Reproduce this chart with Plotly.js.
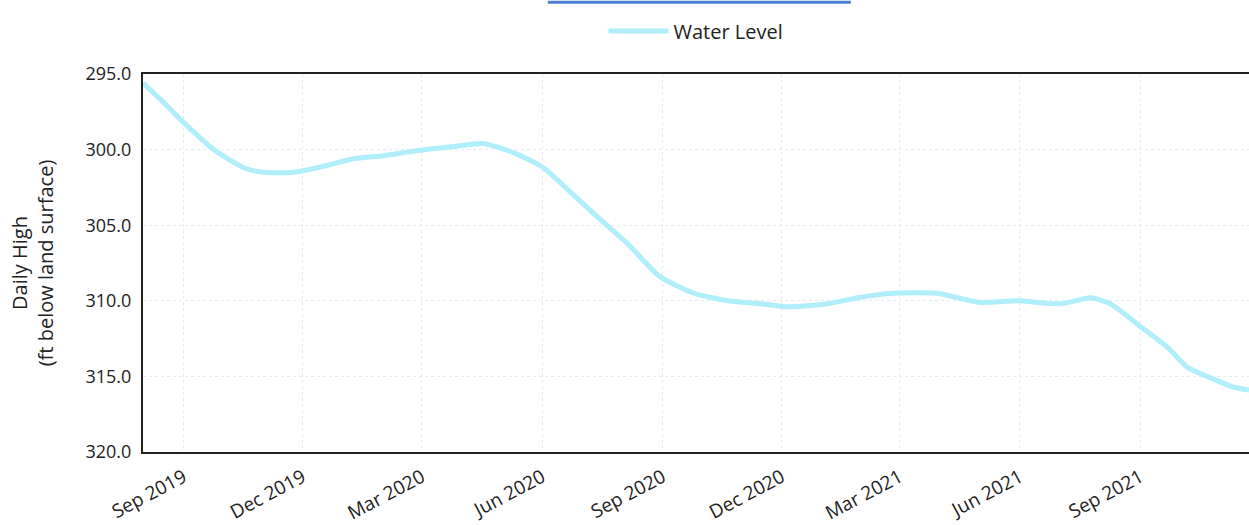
<!DOCTYPE html>
<html>
<head>
<meta charset="utf-8">
<script src="https://cdn.plot.ly/plotly-3.0.1.min.js"></script>
<style>html,body{margin:0;padding:0;background:#fff;}#chart{width:1249px;height:525px;}</style>
</head>
<body>
<div id="chart"></div>
<script>
const dates = [
  '2019-08-01','2019-08-17','2019-09-01','2019-09-24','2019-10-17','2019-11-01','2019-11-24',
  '2019-12-17','2020-01-09','2020-02-01','2020-02-24','2020-03-25','2020-04-17','2020-05-10',
  '2020-06-02','2020-06-15','2020-07-10','2020-08-05','2020-08-30','2020-09-25','2020-10-21',
  '2020-11-15','2020-12-05','2021-01-05','2021-01-28','2021-02-24','2021-03-30','2021-04-30',
  '2021-05-30','2021-07-02','2021-07-25','2021-08-09','2021-09-01','2021-09-22','2021-10-07',
  '2021-10-22','2021-11-11','2021-11-23'
];
const waterLevel = [
  295.6,296.9,298.2,300.0,301.2,301.5,301.5,
  301.1,300.6,300.4,300.1,299.8,299.6,300.2,
  301.2,302.2,304.2,306.2,308.4,309.5,310.0,
  310.2,310.4,310.2,309.8,309.5,309.5,310.1,
  310.0,310.2,309.8,310.2,311.7,313.1,314.4,
  315.0,315.7,315.9
];
const seriesName = 'Water Level';
const yTicks = [295,300,305,310,315,320];
const yTitle = 'Daily High<br>(ft below land surface)';

const font = 'Open Sans, Noto Sans, sans-serif';
const trace = {
  x: dates, y: waterLevel, type: 'scatter', mode: 'lines', name: seriesName,
  line: {color: 'rgb(175,238,250)', width: 5, shape: 'spline', smoothing: 0.6}
};
const layout = {
  width: 1249, height: 525,
  margin: {l: 143, r: 0, t: 74, b: 73, autoexpand: false},
  paper_bgcolor: '#ffffff', plot_bgcolor: '#ffffff',
  font: {family: font, color: '#222', size: 18},
  showlegend: true,
  legend: {orientation: 'h', x: 0.5, xanchor: 'center', y: 1.114, yanchor: 'middle',
           font: {family: font, size: 20, color: '#222'}, itemwidth: 60},
  xaxis: {
    type: 'date', range: ['2019-08-01', '2021-11-23'],
    tick0: '2019-09-01', dtick: 'M3', tickformat: '%b %Y', tickangle: -28,
    showgrid: true, gridcolor: '#e2ecf2', griddash: 'dot', gridwidth: 1,
    showline: true, linecolor: '#222', linewidth: 2, mirror: true,
    ticks: 'outside', ticklen: 5, tickcolor: '#fff', zeroline: false,
    tickfont: {family: font, size: 19, color: '#222'}
  },
  yaxis: {
    range: [320, 295], tickvals: yTicks, tickformat: '.1f',
    showgrid: true, gridcolor: '#e2ecf2', griddash: 'dot', gridwidth: 1,
    showline: true, linecolor: '#222', linewidth: 2, mirror: true,
    ticks: 'outside', ticklen: 6, tickcolor: '#fff', zeroline: false,
    tickfont: {family: font, size: 18, color: '#222'},
    title: {text: yTitle, font: {family: font, size: 20, color: '#222'}, standoff: 26}
  },
  shapes: [{type: 'line', xref: 'paper', yref: 'paper', x0: 0.366, x1: 0.640, y0: 1.19, y1: 1.19,
            line: {color: '#4a7fd4', width: 3}}]
};
Plotly.newPlot('chart', [trace], layout, {displayModeBar: false, staticPlot: true});
</script>
</body>
</html>
